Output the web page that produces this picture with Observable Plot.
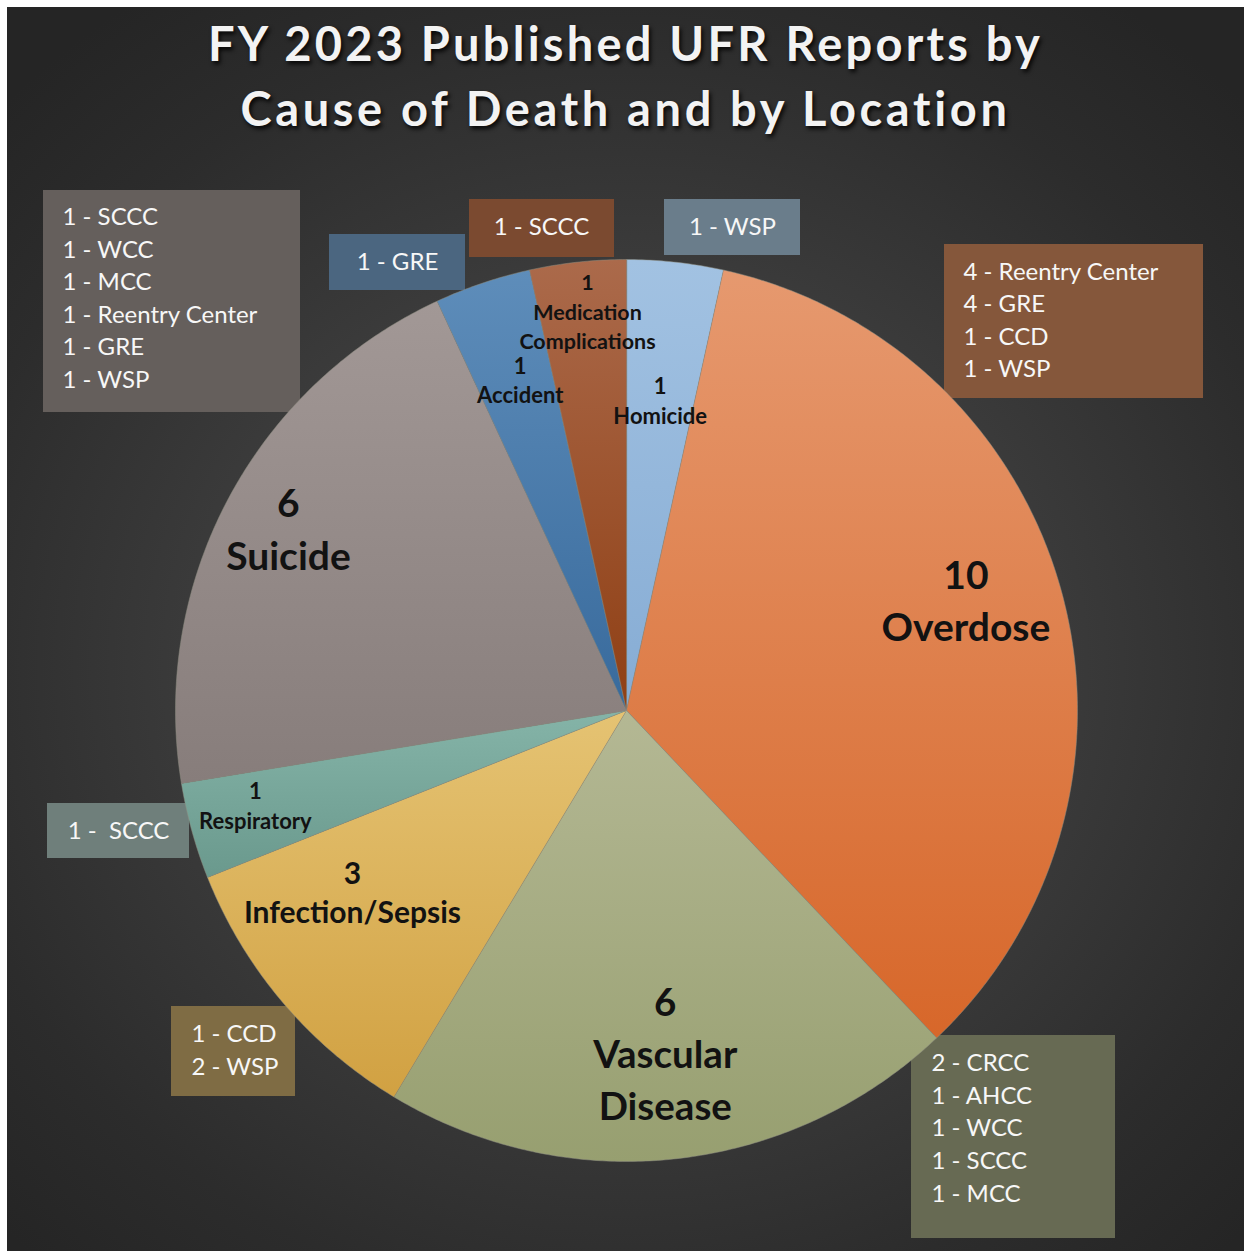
<!DOCTYPE html>
<html>
<head>
<meta charset="utf-8">
<script src="https://cdn.jsdelivr.net/npm/d3@7"></script>
<script src="https://cdn.jsdelivr.net/npm/@observablehq/plot@0.6"></script>
<style>
  html, body { margin: 0; padding: 0; background: #ffffff; }
  #frame {
    position: absolute; left: 7px; top: 7px; width: 1237px; height: 1244px;
    background: radial-gradient(ellipse 70% 65% at 50% 53%, #4c4c4c 0%, #3d3d3d 45%, #2c2c2c 80%, #252525 100%);
    overflow: hidden;
  }
  #title {
    position: absolute; left: 0; top: 4px; width: 1237px; text-align: center;
    font-family: Lato, "Open Sans", sans-serif; font-weight: 700; font-size: 47px;
    line-height: 65px; color: #f3f3f3;
    text-shadow: 2px 3px 4px rgba(0,0,0,0.85);
    white-space: nowrap;
  }
  #chart { position: absolute; left: 0; top: 0; }
</style>
</head>
<body>
<div id="frame">
  <div id="title">
    <div><span>FY 2023 Published UFR Reports by</span></div>
    <div><span>Cause of Death and by Location</span></div>
  </div>
</div>
<div id="chart"></div>
<script>
// ---------- DATA ----------
const causes = ["Homicide", "Overdose", "Vascular Disease", "Infection/Sepsis", "Respiratory", "Suicide", "Accident", "Medication Complications"];
const counts = [1, 10, 6, 3, 1, 6, 1, 1];
const sliceLabelLines = [
  ["Homicide"],
  ["Overdose"],
  ["Vascular", "Disease"],
  ["Infection/Sepsis"],
  ["Respiratory"],
  ["Suicide"],
  ["Accident"],
  ["Medication", "Complications"]
];
const locationLines = [
  ["1 - WSP"],
  ["4 - Reentry Center", "4 - GRE", "1 - CCD", "1 - WSP"],
  ["2 - CRCC", "1 - AHCC", "1 - WCC", "1 - SCCC", "1 - MCC"],
  ["1 - CCD", "2 - WSP"],
  ["1 -  SCCC"],
  ["1 - SCCC", "1 - WCC", "1 - MCC", "1 - Reentry Center", "1 - GRE", "1 - WSP"],
  ["1 - GRE"],
  ["1 - SCCC"]
];

// ---------- LAYOUT / STYLE ----------
const W = 1244, H = 1251;
const CX = 626, CY = 710, R = 451;
const gradTop    = ["#a2c2e2", "#e6996f", "#b4b894", "#e5c373", "#85b4a8", "#a29896", "#5e8dba", "#ab6a4b"];
const gradBottom = ["#86acd4", "#d7672a", "#979f70", "#d1a142", "#6a998d", "#877d7b", "#386a9c", "#8f3f14"];
const labelRadius = [0.69, 0.79, 0.77, 0.73, 0.85, 0.85, 0.77, 0.885];
const labelShift  = [0, -2.2, -0.2, 6.7, 1.0, 0.2, 0.8, 0.6];   // degrees
const labelSize   = [22, 39, 38.5, 30, 22, 39, 22, 21.5];
const labelLH     = [1.38, 1.35, 1.35, 1.3, 1.36, 1.35, 1.34, 1.36];
const labelDy     = [-2, -4, -4, -2, -2, -3, -1, -3];
// callout boxes: [x1, x2, y1, y2, text x, text y(center of block), anchor, fill]
const boxes = [
  [664, 800, 199, 255, 732, 227, "middle", "#6a7d8b"],
  [944, 1203, 244, 398, 963, 320, "start", "#85573b"],
  [911, 1115, 1035, 1238, 931, 1128, "start", "#676a53"],
  [171, 295, 1006, 1096, 191, 1050, "start", "#7f6c44"],
  [47, 189, 803, 858, 118, 831, "middle", "#6f7f7b"],
  [43, 300, 190, 412, 62, 298, "start", "#655f5c"],
  [329, 465, 234, 290, 397, 262, "middle", "#4b6680"],
  [469, 614, 199, 257, 541, 227, "middle", "#7b4a30"]
];

// ---------- GEOMETRY FROM DATA ----------
const arcs = d3.pie().sort(null).startAngle(0).endAngle(2 * Math.PI)(counts);
const toXY = (a, r) => [CX + r * Math.sin(a), CY - r * Math.cos(a)];
const slicePts = [];
arcs.forEach((a, i) => {
  const [x0, y0] = toXY(0, 0);
  slicePts.push({ cause: causes[i], x: x0, y: y0, fill: `url(#g${i})` });
  const n = Math.max(4, Math.ceil((a.endAngle - a.startAngle) / (Math.PI / 360)));
  for (let k = 0; k <= n; k++) {
    const t = a.startAngle + (a.endAngle - a.startAngle) * k / n;
    const [x, y] = toXY(t, R);
    slicePts.push({ cause: causes[i], x, y, fill: `url(#g${i})` });
  }
});
const labels = arcs.map((a, i) => {
  const mid = (a.startAngle + a.endAngle) / 2 + labelShift[i] * Math.PI / 180;
  const [x, y] = toXY(mid, R * labelRadius[i]);
  return { x, y: y + labelDy[i], text: [String(counts[i]), ...sliceLabelLines[i]].join("\n"), size: labelSize[i], lh: labelLH[i] };
});
const boxData = boxes.map((b, i) => ({
  x1: b[0], x2: b[1], y1: b[2], y2: b[3], tx: b[4], ty: b[5] - 2.5, anchor: b[6], fill: b[7],
  text: locationLines[i].join("\n")
}));

const labelMarks = [...new Set(labels.map(d => d.lh))].map(lh =>
  Plot.text(labels.filter(d => d.lh === lh), {
    x: "x", y: "y", text: "text", fontSize: d => d.size, lineHeight: lh,
    fontWeight: "bold", fill: "#121212", fontFamily: "Lato, sans-serif", lineAnchor: "middle"
  })
);

const plot = Plot.plot({
  width: W, height: H, margin: 0,
  x: { domain: [0, W], range: [0, W], axis: null },
  y: { domain: [0, H], range: [0, H], axis: null },
  color: { type: "identity" },
  style: { background: "transparent", overflow: "visible" },
  marks: [
    Plot.rect(boxData, { x1: "x1", x2: "x2", y1: "y1", y2: "y2", fill: "fill" }),
    Plot.line(slicePts, { x: "x", y: "y", z: "cause", fill: "fill", stroke: "#8c8c80", strokeWidth: 0.7, strokeOpacity: 0.7, curve: "linear-closed" }),
    ...labelMarks,
    Plot.text(boxData.filter(d => d.anchor === "start"), {
      x: "tx", y: "ty", text: "text", textAnchor: "start", lineAnchor: "middle",
      fontSize: 24, lineHeight: 1.36, fill: "#f7f7f7", fontFamily: "Lato, sans-serif"
    }),
    Plot.text(boxData.filter(d => d.anchor === "middle"), {
      x: "tx", y: "ty", text: "text", textAnchor: "middle", lineAnchor: "middle",
      fontSize: 24, lineHeight: 1.36, fill: "#f7f7f7", fontFamily: "Lato, sans-serif"
    })
  ]
});

// gradients
const svg = d3.select(plot);
const defs = svg.insert("defs", ":first-child");
gradTop.forEach((c, i) => {
  const g = defs.append("linearGradient").attr("id", `g${i}`).attr("x1", 0).attr("y1", 0).attr("x2", 0).attr("y2", 1);
  g.append("stop").attr("offset", "0%").attr("stop-color", c);
  g.append("stop").attr("offset", "100%").attr("stop-color", gradBottom[i]);
});
document.getElementById("chart").appendChild(plot);

// fit title lines to reference widths
const targets = [835, 771];
document.querySelectorAll("#title span").forEach((s, i) => {
  const w = s.getBoundingClientRect().width;
  const n = s.textContent.length;
  s.style.letterSpacing = ((targets[i] - w) / n) + "px";
});
</script>
</body>
</html>
